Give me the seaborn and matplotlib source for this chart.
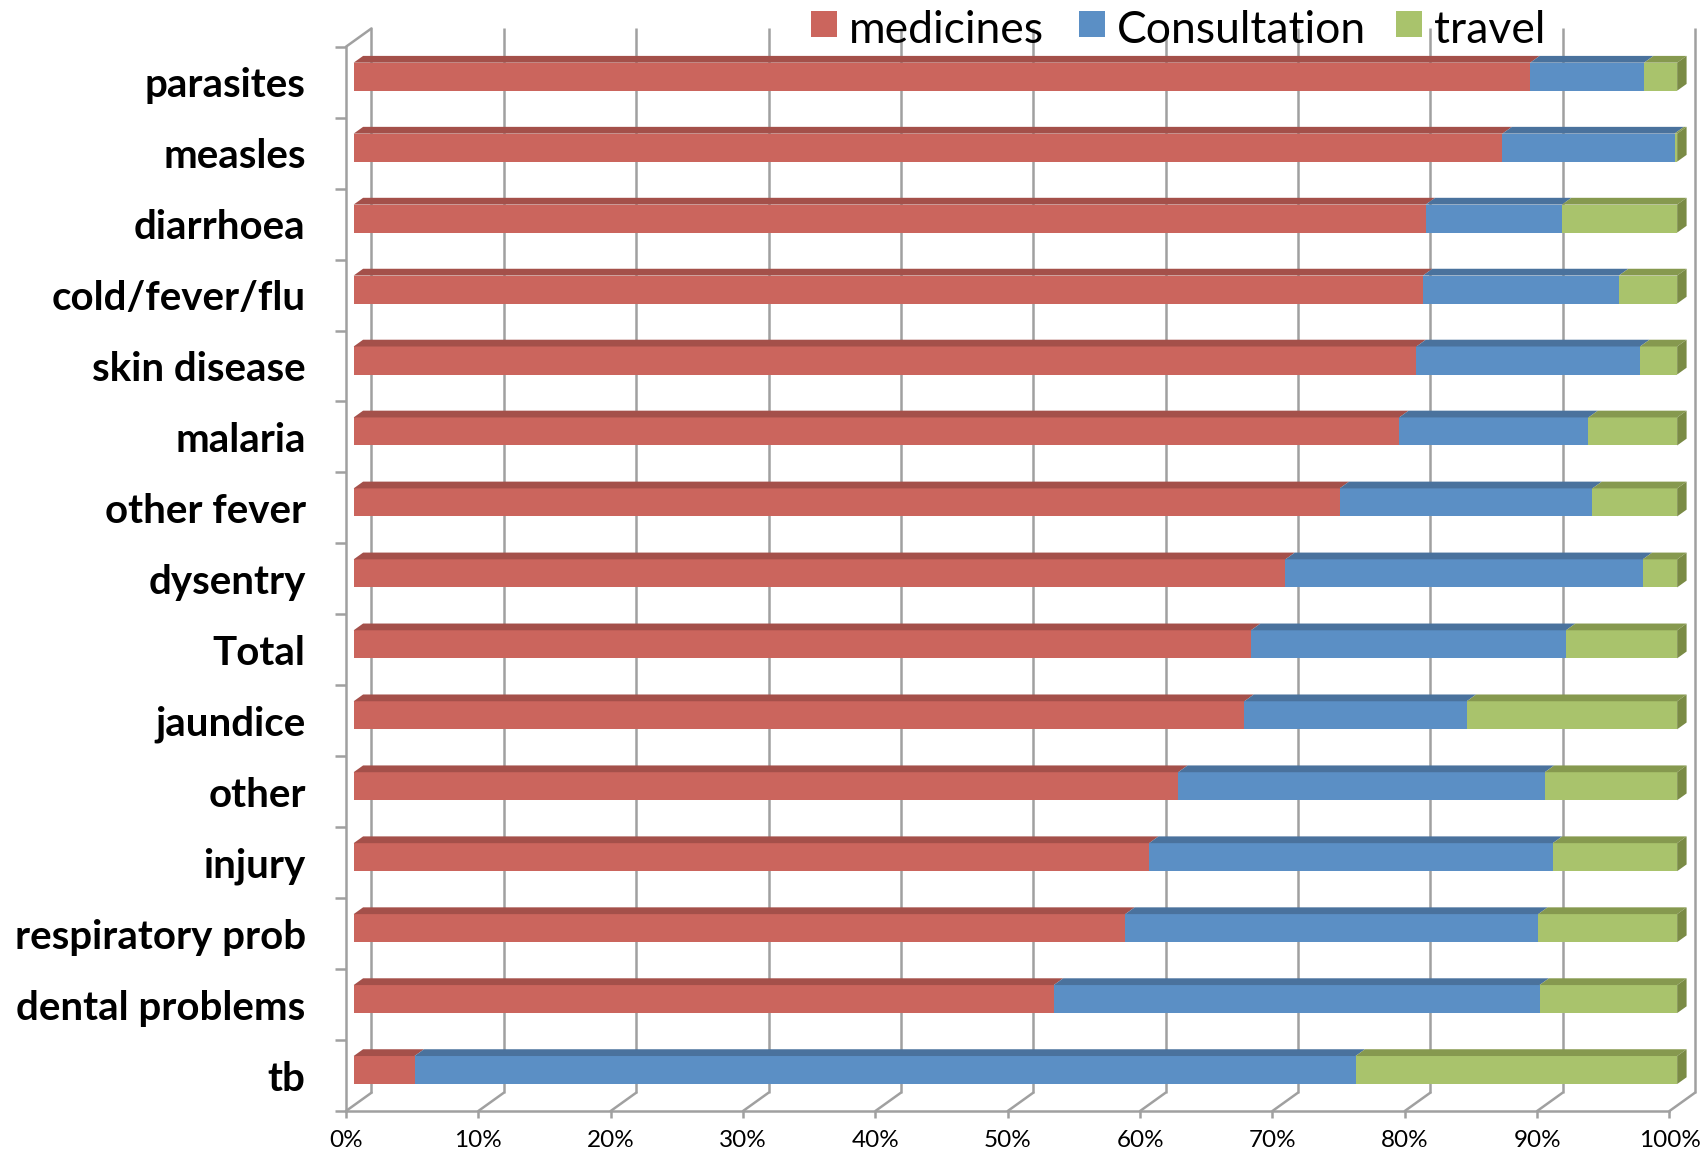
import numpy as np
import pandas as pd
import matplotlib
matplotlib.use("Agg")
import matplotlib.pyplot as plt
from matplotlib.patches import Polygon, Rectangle
import seaborn as sns

# ---- data: share of out-of-pocket cost by component (%) ----
categories = ["parasites", "measles", "diarrhoea", "cold/fever/flu", "skin disease",
              "malaria", "other fever", "dysentry", "Total", "jaundice", "other",
              "injury", "respiratory prob", "dental problems", "tb"]
medicines = [88.9, 86.8, 81.0, 80.8, 80.3, 79.0, 74.5, 70.4, 67.8, 67.3, 62.3,
             60.1, 58.3, 52.9, 4.6]
consultation = [8.6, 13.0, 10.3, 14.8, 16.9, 14.3, 19.1, 27.0, 23.8, 16.8, 27.7,
                30.5, 31.2, 36.7, 71.1]
travel = [2.5, 0.2, 8.7, 4.4, 2.8, 6.7, 6.4, 2.6, 8.4, 15.9, 10.0,
          9.4, 10.5, 10.4, 24.3]
series_names = ["medicines", "Consultation", "travel"]
x_tick_values = list(range(0, 101, 10))
x_tick_labels = [f"{p}%" for p in x_tick_values]

# ---- styling ----
front_colors = ["#CB655D", "#5B8FC5", "#A9C36C"]
top_colors = ["#A4504A", "#4A729D", "#86994F"]
side_color = "#7A8B45"
grid_color = "#A0A0A0"

sns.set_theme(style="white")
plt.rcParams["font.family"] = ["Lato", "DejaVu Sans"]
plt.rcParams["text.color"] = "black"
plt.rcParams["xtick.labelcolor"] = "black"
plt.rcParams["ytick.labelcolor"] = "black"

W, H = 1706, 1159
fig = plt.figure(figsize=(W / 100, H / 100), dpi=100)


def px_rect(left, top, right, bottom):
    return [left / W, 1 - bottom / H, (right - left) / W, (bottom - top) / H]


# plot box (front plane) and the pseudo-3D depth vector in pixels
box_l, box_t, box_r, box_b = 346.0, 46.7, 1669.5, 1111.0
depth_px = (25.5, -18.3)
bar_front_frac, bar_back_frac = 0.30, 0.67
n = len(categories)
row_px = (box_b - box_t) / n
x_px = box_r - box_l

# ---- table of shares ----
df = pd.DataFrame({"category": categories, "medicines": medicines,
                   "Consultation": consultation, "travel": travel})
tot = df[series_names].sum(axis=1)
for s in series_names:
    df[s] = df[s] / tot
df["c1"] = df["medicines"]
df["c2"] = df["c1"] + df["Consultation"]
df["c3"] = df["c2"] + df["travel"]

# ---- walls, floor and axes ----
ax_box = fig.add_axes(px_rect(box_l, box_t, box_r, box_b))
ax_box.set_facecolor("none")
ax_box.set_xlim(0, 1)
ax_box.set_ylim(n - 0.5, -0.5)
DX = depth_px[0] / x_px
DY = depth_px[1] / row_px
lw = 1.8
for v in np.array(x_tick_values) / 100:
    # back-wall gridline
    ax_box.plot([v + DX, v + DX], [n - 0.5 + DY, -0.5 + DY], color=grid_color,
                lw=lw, clip_on=False, solid_capstyle="butt", zorder=1)
    # floor line running into depth
    ax_box.plot([v, v + DX], [n - 0.5, n - 0.5 + DY], color=grid_color,
                lw=lw, clip_on=False, zorder=1)
# top edge of the left wall
ax_box.plot([0, DX], [-0.5, -0.5 + DY], color=grid_color, lw=lw, clip_on=False, zorder=1)

for side in ["top", "right"]:
    ax_box.spines[side].set_visible(False)
for side in ["left", "bottom"]:
    ax_box.spines[side].set_color(grid_color)
    ax_box.spines[side].set_linewidth(lw)

ax_box.set_xticks(np.array(x_tick_values) / 100)
ax_box.set_xticklabels(x_tick_labels, fontsize=17.5)
ax_box.tick_params(axis="x", bottom=True, direction="out", length=5, width=lw,
                   color=grid_color, pad=9)
ax_box.set_yticks(np.arange(n))
ax_box.set_yticklabels(categories, fontsize=29, fontweight="bold")
ax_box.set_yticks(np.arange(n + 1) - 0.5, minor=True)
ax_box.tick_params(axis="y", which="major", left=False, length=0, pad=29)
ax_box.tick_params(axis="y", which="minor", left=True, direction="out", length=8,
                   width=lw, color=grid_color)
ax_box.grid(False)

# ---- bars ----
bar_w = 0.395
off = (depth_px[0] * bar_front_frac, depth_px[1] * bar_front_frac)
ax_bar = fig.add_axes(px_rect(box_l + off[0], box_t + off[1], box_r + off[0], box_b + off[1]))
ax_bar.set_facecolor("none")
for col, color in zip(["c3", "c2", "c1"], front_colors[::-1]):
    sns.barplot(data=df, x=col, y="category", order=categories, orient="h",
                color=color, saturation=1, width=bar_w, errorbar=None,
                edgecolor="none", linewidth=0, ax=ax_bar)
ax_bar.set_xlim(0, 1)
ax_bar.set_ylim(n - 0.5, -0.5)
ax_bar.axis("off")

ddx = depth_px[0] * (bar_back_frac - bar_front_frac) / x_px
ddy = depth_px[1] * (bar_back_frac - bar_front_frac) / row_px
for i, row in df.iterrows():
    yt = i - bar_w / 2
    edges = [0.0, row["c1"], row["c2"], row["c3"]]
    for k in range(3):
        x0, x1 = edges[k], edges[k + 1]
        if x1 - x0 <= 0:
            continue
        ax_bar.add_patch(Polygon([(x0, yt), (x1, yt), (x1 + ddx, yt + ddy), (x0 + ddx, yt + ddy)],
                                 closed=True, facecolor=top_colors[k], edgecolor="none",
                                 clip_on=False, zorder=3))
    xe = edges[-1]
    ax_bar.add_patch(Polygon([(xe, yt), (xe, yt + bar_w), (xe + ddx, yt + bar_w + ddy),
                              (xe + ddx, yt + ddy)], closed=True, facecolor=side_color,
                             edgecolor="none", clip_on=False, zorder=3))

# ---- legend along the top ----
legend_x = [811, 1079, 1396]
sq = 26
for x0, name, color in zip(legend_x, series_names, front_colors):
    fig.add_artist(Rectangle((x0 / W, 1 - 37 / H), sq / W, sq / H,
                             transform=fig.transFigure, facecolor=color, edgecolor="none"))
    fig.text((x0 + sq + 12) / W, 1 - 43 / H, name, fontsize=32, va="baseline",
             ha="left", color="black")

fig.savefig("out.png", dpi=100, facecolor="white")
